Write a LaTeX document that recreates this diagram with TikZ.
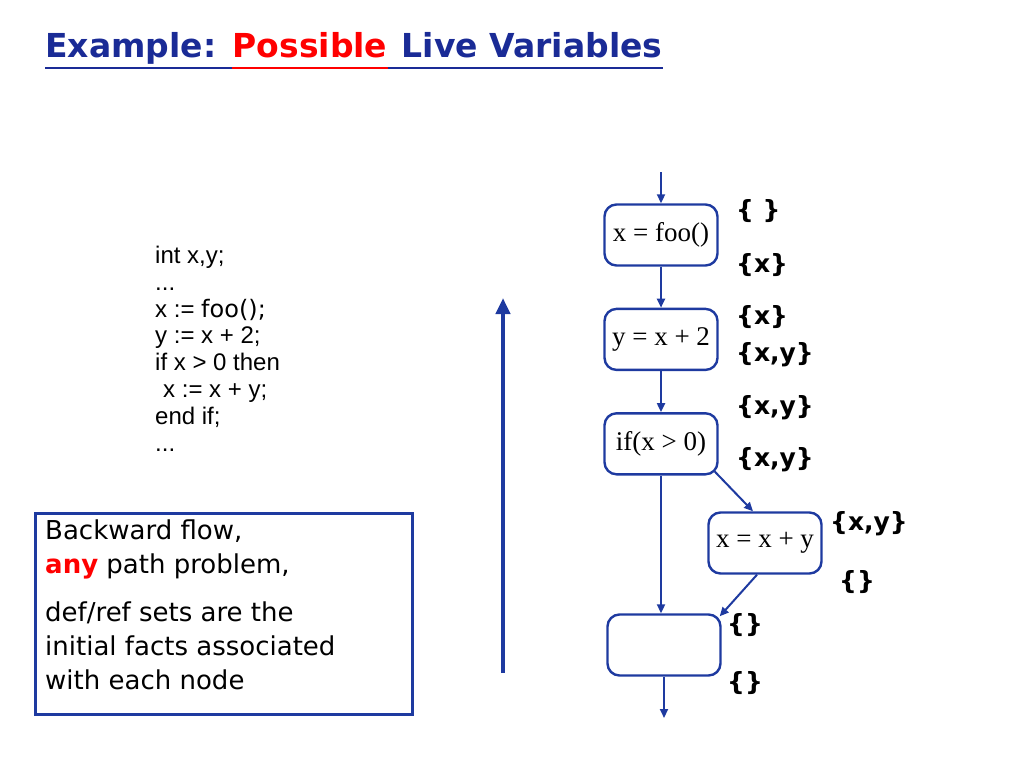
\documentclass[tikz,border=0pt]{standalone}
\usepackage{fontspec}
\setmainfont{Liberation Serif}
\newfontfamily\comic{DejaVu Sans}
\newfontfamily\arial{Liberation Sans}
\usetikzlibrary{arrows.meta,positioning}
\definecolor{navy}{HTML}{1A2B96}
\definecolor{flow}{HTML}{1E3AA0}
\definecolor{hot}{HTML}{FF0000}

\begin{document}
\begin{tikzpicture}[x=1pt, y=-1pt, >={Triangle[length=9pt,width=8pt]},
  node distance=41pt,
  blk/.style={draw=flow, line width=2.4pt, rounded corners=12pt, minimum width=113pt, minimum height=61pt, inner sep=0pt, font=\fontsize{27}{27}\selectfont},
  edge/.style={->, draw=flow, line width=2pt},
  set/.style={anchor=west, inner sep=0pt, font=\comic\bfseries\fontsize{25}{25}\selectfont},
  ttl/.style={anchor=base west, inner sep=0pt, font=\comic\bfseries\fontsize{33}{33}\selectfont}]
  \useasboundingbox (0,0) rectangle (1024,768);
  % title
  \node[ttl, text=navy] (t1) at (45,58) {Example:};
  \node[ttl, text=hot] (t2) at ([xshift=16pt]t1.base east) {Possible};
  \node[ttl, text=navy] (t3) at ([xshift=14pt]t2.base east) {Live Variables};
  \draw[navy, line width=2pt] ([yshift=-10pt]t1.base west) -- ([yshift=-10pt]t2.base west);
  \draw[hot, line width=2pt] ([yshift=-10pt]t2.base west) -- ([yshift=-10pt]t2.base east);
  \draw[navy, line width=2pt] ([yshift=-10pt]t2.base east) -- ([yshift=-10pt]t3.base east);
  % program
  \node[anchor=north west, inner sep=0pt, align=left, font=\arial\fontsize{24}{26.8}\selectfont] (prog) at (155,246) {%
    int x,y;\\
    ...\\
    x := {\comic foo();}\\
    y := x + 2;\\
    if x > 0 then\\
    \hspace{8pt}x := x + y;\\
    end if;\\
    ...};
  % note
  \node[draw=flow, line width=3pt, anchor=north west, minimum width=377pt, minimum height=201pt, inner sep=0pt] (note) at (34,512) {};
  \node[anchor=north west, inner sep=0pt, align=left, font=\comic\fontsize{26}{34}\selectfont] (notetext) at (45,520) {%
    Backward flow,\\
    {\color{hot}\bfseries any} path problem,\\[14pt]
    def/ref sets are the\\
    initial facts associated\\
    with each node};
  % direction
  \coordinate (up0) at (503,673);
  \coordinate (up1) at (503,298);
  \draw[flow, line width=4pt, -{Triangle[length=16pt,width=14pt]}] (up0) -- (up1);
  % flow graph
  \node[blk] (foo) at (661,235) {x = foo()};
  \node[blk, below=of foo] (addtwo) {y = x + 2};
  \node[blk, below=of addtwo] (test) {if(x > 0)};
  \node[blk] (addy) at (765,543) {x = x + y};
  \node[blk] (join) at (664,645) {};
  \coordinate (entry) at (661,172);
  \coordinate (exit) at (664,718);
  \draw[edge] (entry) -- (foo);
  \draw[edge] (foo) -- (addtwo);
  \draw[edge] (addtwo) -- (test);
  \draw[edge] (test.south) -- (test.south |- join.north);
  \draw[edge] ([xshift=-4pt,yshift=4pt]test.south east) -- ([xshift=-12pt]addy.north);
  \draw[edge] ([xshift=-8pt]addy.south) -- ([xshift=-2pt,yshift=-3pt]join.north east);
  \draw[edge] (join) -- (exit);
  % live sets
  \node[set] (s1) at (736,211) {\{ \}};
  \node[set] (s2) at (736,265) {\{x\}};
  \node[set] (s3) at (736,317) {\{x\}};
  \node[set] (s4) at (736,355) {\{x,y\}};
  \node[set] (s5) at (736,408) {\{x,y\}};
  \node[set] (s6) at (736,460) {\{x,y\}};
  \node[set] (s7) at (830,524) {\{x,y\}};
  \node[set] (s8) at (839,582) {\{\}};
  \node[set] (s9) at (727,625) {\{\}};
  \node[set] (s10) at (727,683) {\{\}};
\end{tikzpicture}
\end{document}
